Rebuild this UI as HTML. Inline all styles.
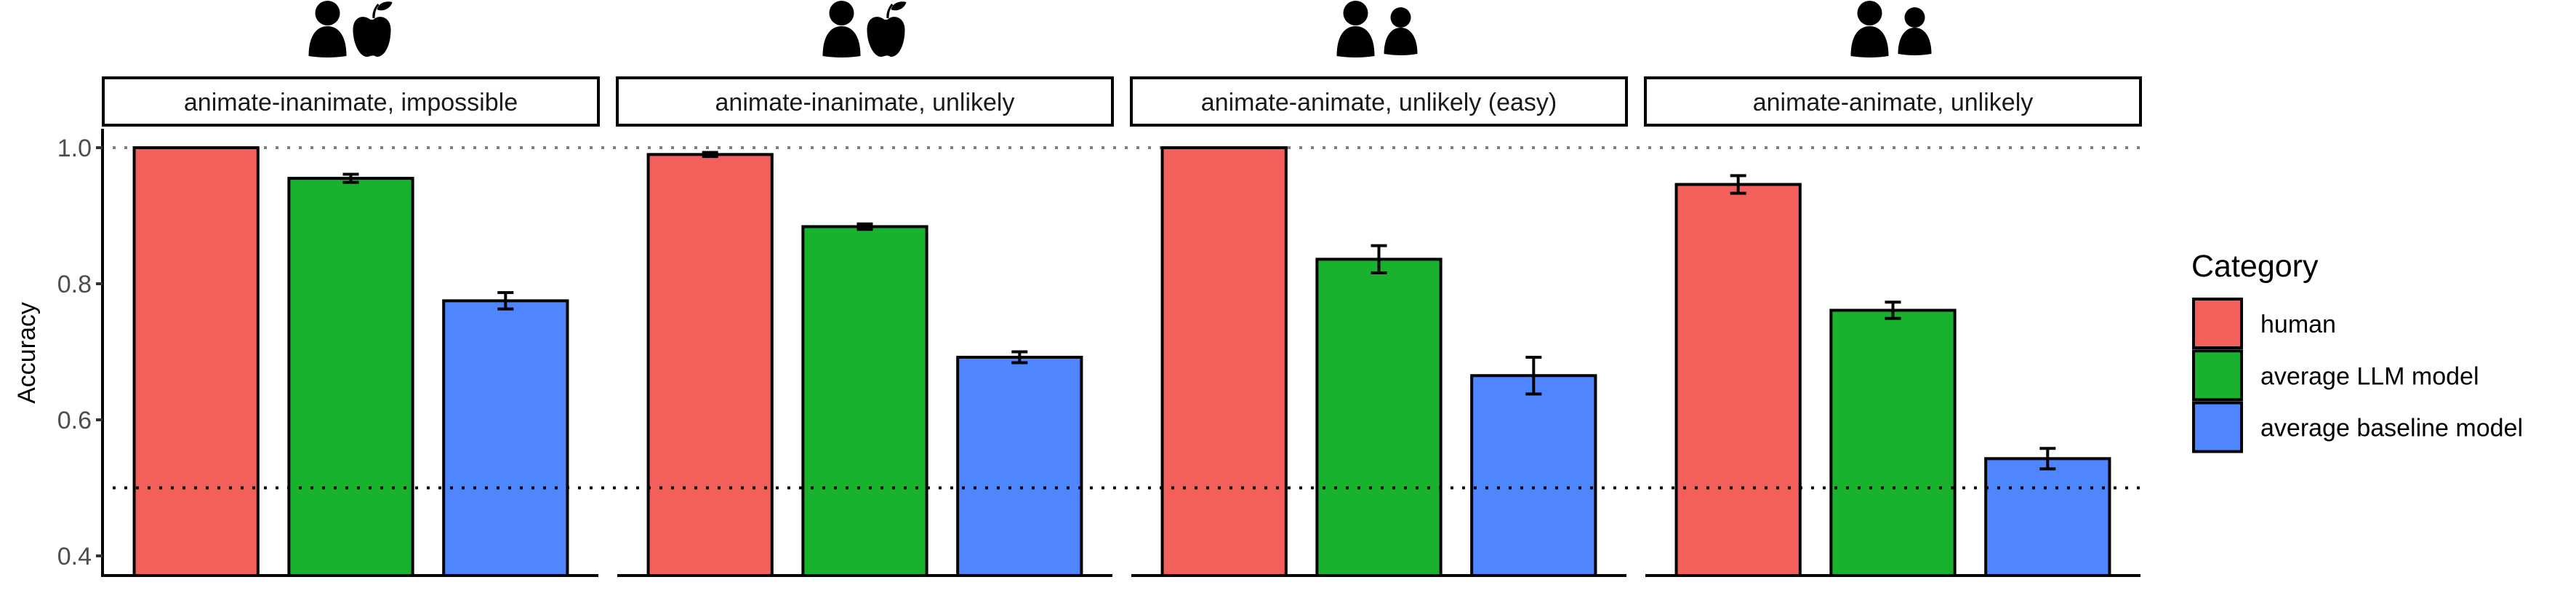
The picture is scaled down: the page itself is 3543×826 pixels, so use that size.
<!DOCTYPE html>
<html><head><meta charset="utf-8"><style>
html,body{margin:0;padding:0;background:#fff}
svg{display:block;font-family:"Liberation Sans",Arial,sans-serif}
</style></head><body>
<svg id="chart" width="3543" height="826" viewBox="0 0 3543 826" xmlns="http://www.w3.org/2000/svg">
<g id="root"></g>
</svg>
<script>
const panels = ["animate-inanimate, impossible","animate-inanimate, unlikely","animate-animate, unlikely (easy)","animate-animate, unlikely"];
const iconTypes = ["person-apple","person-apple","two-persons","two-persons"];
const categories = ["human","average LLM model","average baseline model"];
const humanVals = [1.0, 0.990, 1.0, 0.946];
const humanErr = [0, 0.003, 0, 0.013];
const llmVals = [0.955, 0.884, 0.836, 0.761];
const llmErr = [0.006, 0.004, 0.020, 0.012];
const baseVals = [0.775, 0.692, 0.665, 0.543];
const baseErr = [0.012, 0.008, 0.027, 0.015];
const yTicks = [0.4, 0.6, 0.8, 1.0];
const yTickLabels = ["0.4","0.6","0.8","1.0"];
const colors = ["#F35F5B","#19B22F","#4F86FF"];

const NS="http://www.w3.org/2000/svg";
const root=document.getElementById('root');
function mk(tag,attrs,parent){const e=document.createElementNS(NS,tag);for(const k in attrs)e.setAttribute(k,attrs[k]);(parent||root).appendChild(e);return e;}
const plotTop=177, plotBot=791;
function y(v){return 203+(1-v)*935;}
const panelX0=142, panelStep=707, panelW=681;
function xc(p,i){return panelX0+p*panelStep+(i+1-0.4)*(panelW/3.2);}
const bw=0.8*panelW/3.2;
const series=[[humanVals,humanErr],[llmVals,llmErr],[baseVals,baseErr]];

const l1=mk('line',{x1:155,x2:2943,y1:y(1.0),y2:y(1.0),stroke:'#808080','stroke-width':4,'stroke-dasharray':'4 12'});



for(let p=0;p<4;p++){
  const px=panelX0+p*panelStep;
  const g=mk('g',{});
  
  
  const sr=mk('rect',{x:px,y:107,width:panelW,height:65,fill:'#fff',stroke:'#000','stroke-width':4},g);
  
  
  const st=mk('text',{x:px+panelW/2,y:152,'text-anchor':'middle','font-size':34,fill:'#1a1a1a'},g);
  st.textContent=panels[p];
  
  
  for(let i=0;i<3;i++){
    const v=series[i][0][p], e=series[i][1][p], cx=xc(p,i);
    const r=mk('rect',{x:cx-bw/2,y:y(v),width:bw,height:plotBot-y(v),fill:colors[i],stroke:'#000','stroke-width':4},g);
    
    
    const eb=mk('path',{d:`M${cx-11},${y(v+e)}H${cx+11}M${cx},${y(v+e)}V${y(v-e)}M${cx-11},${y(v-e)}H${cx+11}`,stroke:'#000','stroke-width':4,fill:'none'},g);
    
    
  }
  const xa=mk('line',{x1:px,x2:px+panelW,y1:plotBot,y2:plotBot,stroke:'#000','stroke-width':4},g);
  
  
  const c=px+panelW/2+3;
  const ic=mk('g',{fill:'#000',transform:'translate(0,-3)'},g);
  
  
  mk('circle',{cx:c-35,cy:21,r:17},ic);
  mk('path',{d:`M${c-61},80 C${c-61},52 ${c-50},39 ${c-35},39 C${c-20},39 ${c-9},52 ${c-9},80 Q${c-35},84 ${c-61},80Z`},ic);
  if(iconTypes[p]==='person-apple'){
    mk('path',{d:`M${c+24},30 C${c+14},22 ${c},26 ${c},44 C${c},64 ${c+10},82 ${c+20},81 C${c+25},80 ${c+28},78 ${c+32},81 C${c+44},82 ${c+52},64 ${c+52},44 C${c+52},26 ${c+36},22 ${c+28},30Z`},ic);
    mk('path',{d:`M${c+27},28 C${c+26},20 ${c+30},12 ${c+34},8 L${c+36},10 C${c+32},14 ${c+30},20 ${c+30},28Z`},ic);
    mk('path',{d:`M${c+33},16 C${c+36},6 ${c+46},4 ${c+54},6 C${c+52},14 ${c+42},20 ${c+33},16Z`},ic);
  } else {
    mk('circle',{cx:c+27,cy:27,r:14},ic);
    mk('path',{d:`M${c+4},77 C${c+4},55 ${c+13},41 ${c+27},41 C${c+41},41 ${c+50},55 ${c+50},77 Q${c+27},81 ${c+4},77Z`},ic);
  }
}
const l2=mk('line',{x1:155,x2:2943,y1:y(0.5),y2:y(0.5),stroke:'#000','stroke-width':4,'stroke-dasharray':'4 12'});



const ya=mk('line',{x1:141,x2:141,y1:plotTop,y2:plotBot+2,stroke:'#000','stroke-width':4});


yTicks.forEach((t,k)=>{
  const tk=mk('line',{x1:132,x2:141,y1:y(t),y2:y(t),stroke:'#333','stroke-width':4});
  
  
  const tl=mk('text',{x:126,y:y(t)+12,'text-anchor':'end','font-size':34,fill:'#4d4d4d'});
  tl.textContent=yTickLabels[k];
  
  
});
const yt=mk('text',{x:0,y:0,'text-anchor':'middle','font-size':34,fill:'#000',transform:'translate(48,485) rotate(-90)'});
yt.textContent='Accuracy';



const lg=mk('g',{});


const lt=mk('text',{x:3014,y:380,'font-size':43,fill:'#000'},lg);
lt.textContent='Category';


categories.forEach((cname,i)=>{
  const yy=411+i*71.3;
  const k=mk('rect',{x:3017,y:yy,width:66,height:67,fill:colors[i],stroke:'#000','stroke-width':4},lg);
  
  
  const t=mk('text',{x:3109,y:yy+46,'font-size':34,fill:'#000'},lg);
  t.textContent=cname;
  
  
});
</script>
</body></html>
